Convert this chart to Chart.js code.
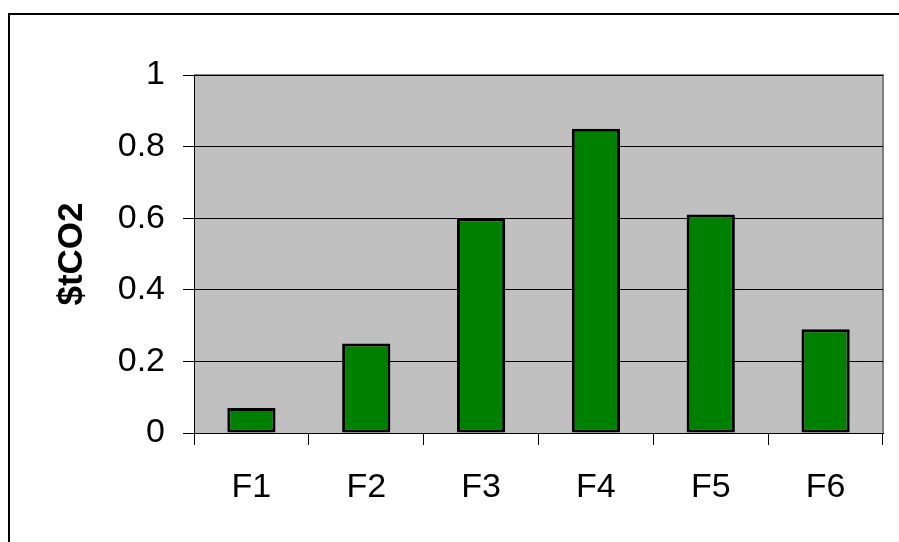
<!DOCTYPE html>
<html>
<head>
<meta charset="utf-8">
<script src="https://cdn.jsdelivr.net/npm/chart.js@4"></script>
<style>
    html, body { margin: 0; padding: 0; background: #fff; }
    #wrap { width: 899px; height: 542px; position: relative; }
</style>
</head>
<body>
<div id="wrap"><canvas id="co2Chart"></canvas></div>
<script>
const categories = ["F1", "F2", "F3", "F4", "F5", "F6"];
const costPerTon = [0.07, 0.25, 0.60, 0.85, 0.61, 0.29];
const yTicks = [0, 0.2, 0.4, 0.6, 0.8, 1];
const yTickLabels = ["0", "0.2", "0.4", "0.6", "0.8", "1"];
const yTitle = "$tCO2";

// grey plot area + the outer frame, excel style
const frame = {
    id: 'frame',
    beforeDraw(chart) {
        const { ctx, chartArea: a } = chart;
        ctx.save();
        ctx.strokeStyle = '#000';
        ctx.lineWidth = 2;
        ctx.beginPath();
        ctx.moveTo(9, 542);
        ctx.lineTo(9, 14);
        ctx.lineTo(899, 14);
        ctx.stroke();
        ctx.fillStyle = '#C0C0C0';
        ctx.fillRect(a.left, a.top, a.right - a.left, a.bottom - a.top);
        ctx.strokeStyle = '#808080';
        ctx.lineWidth = 2;
        ctx.beginPath();
        ctx.moveTo(a.left, a.top);
        ctx.lineTo(a.right, a.top);
        ctx.lineTo(a.right, a.bottom);
        ctx.stroke();
        ctx.restore();
    }
};

const font = { family: "'Liberation Sans', Arial, sans-serif", size: 34 };

new Chart(document.getElementById('co2Chart'), {
    type: 'bar',
    data: {
        labels: categories,
        datasets: [{
            data: costPerTon,
            backgroundColor: '#008000',
            borderColor: '#000',
            borderWidth: 3,
            borderSkipped: false,
            categoryPercentage: 1,
            barPercentage: 0.42
        }]
    },
    options: {
        responsive: true,
        maintainAspectRatio: false,
        animation: false,
        layout: { padding: { left: 0, top: 75, right: 16, bottom: 0 } },
        plugins: { legend: { display: false }, tooltip: { enabled: false } },
        scales: {
            x: {
                offset: true,
                grid: { offset: true, drawOnChartArea: false, drawTicks: true, tickLength: 12, color: '#000' },
                border: { color: '#000', width: 1 },
                ticks: { color: '#000', font: font, padding: 22 },
                afterFit: s => { s.height = 109; }
            },
            y: {
                min: 0,
                max: 1,
                afterBuildTicks: s => { s.ticks = yTicks.map(v => ({ value: v })); },
                grid: { color: '#000', tickLength: 11, drawTicks: true },
                border: { color: '#000', width: 1 },
                ticks: {
                    color: '#000', font: font, padding: 18,
                    callback: (v, i) => yTickLabels[i]
                },
                title: {
                    display: true,
                    text: yTitle,
                    color: '#000',
                    font: { family: "'Liberation Sans', Arial, sans-serif", size: 35, weight: 'bold' },
                    padding: { top: 51, bottom: 0 }
                },
                afterFit: s => { s.width = 194; }
            }
        }
    },
    plugins: [frame]
});
</script>
</body>
</html>
